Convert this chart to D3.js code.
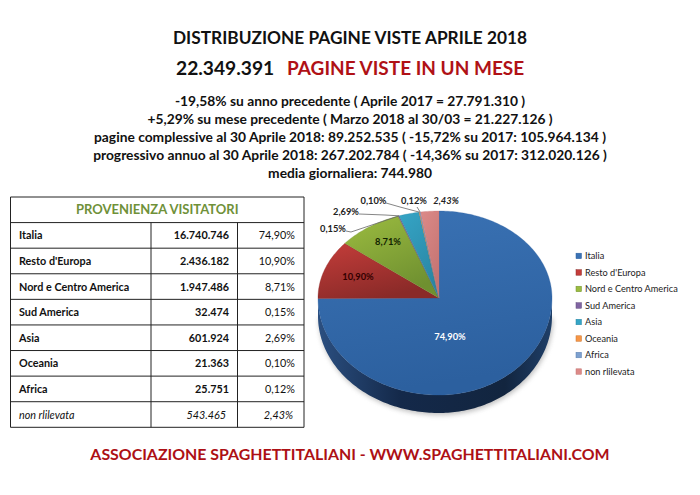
<!DOCTYPE html>
<html>
<head>
<meta charset="utf-8">
<script src="https://cdn.jsdelivr.net/npm/d3@7/dist/d3.min.js"></script>
<style>
body { margin: 0; background: #fff; }
svg { display: block; }
text { font-family: Lato, "Open Sans", sans-serif; }
</style>
</head>
<body>
<script>
var data = [
	{name: "Italia", visite: 16740746, valore: "16.740.746", pct: "74,90%", c1: "#3a72b4", c2: "#2c609f", lx: 450, ly: 337, col: "#fff"},
	{name: "Resto d'Europa", visite: 2436182, valore: "2.436.182", pct: "10,90%", c1: "#c43d3a", c2: "#8a2a28", lx: 358, ly: 277, col: "#300"},
	{name: "Nord e Centro America", visite: 1947486, valore: "1.947.486", pct: "8,71%", c1: "#9cbc40", c2: "#6f9030", lx: 388, ly: 242, col: "#120"},
	{name: "Sud America", visite: 32474, valore: "32.474", pct: "0,15%", c1: "#8064a2", c2: "#5f4a7c", lx: 333, ly: 229, col: "#222"},
	{name: "Asia", visite: 601924, valore: "601.924", pct: "2,69%", c1: "#35a5c6", c2: "#2a86a4", lx: 346, ly: 212, col: "#222"},
	{name: "Oceania", visite: 21363, valore: "21.363", pct: "0,10%", c1: "#f79646", c2: "#c87430", lx: 373.5, ly: 201, col: "#222"},
	{name: "Africa", visite: 25751, valore: "25.751", pct: "0,12%", c1: "#7da0cf", c2: "#5a7fb0", lx: 414, ly: 201, col: "#222"},
	{name: "non rlilevata", visite: 543465, valore: "543.465", pct: "2,43%", c1: "#dc8a88", c2: "#c47472", lx: 446, ly: 200.5, col: "#222", corsivo: true}
];

var testi = [
	{t: "-19,58% su anno precedente ( Aprile 2017 = 27.791.310 )", y: 106},
	{t: "+5,29% su mese precedente ( Marzo 2018 al 30/03 = 21.227.126 )", y: 124},
	{t: "pagine complessive al 30 Aprile 2018: 89.252.535 ( -15,72% su 2017: 105.964.134 )", y: 142},
	{t: "progressivo annuo al 30 Aprile 2018: 267.202.784 ( -14,36% su 2017: 312.020.126 )", y: 160},
	{t: "media giornaliera: 744.980", y: 178}
];

var canvas = d3.select("body").append("svg")
	.attr("width", 700)
	.attr("height", 495);

var defs = canvas.append("defs");

// titoli
canvas.append("text")
	.attr("x", 350).attr("y", 44)
	.attr("text-anchor", "middle")
	.attr("font-size", 17.3).attr("font-weight", 700)
	.attr("fill", "#111")
	.text("DISTRIBUZIONE PAGINE VISTE APRILE 2018");

canvas.append("text")
	.attr("x", 176).attr("y", 75)
	.attr("font-size", 19.2).attr("font-weight", 700)
	.attr("fill", "#111")
	.text("22.349.391");

canvas.append("text")
	.attr("x", 287).attr("y", 75)
	.attr("font-size", 19).attr("font-weight", 700)
	.attr("fill", "#b01116")
	.text("PAGINE VISTE IN UN MESE");

canvas.selectAll("text.riga")
	.data(testi)
	.enter()
		.append("text")
		.attr("class", "riga")
		.attr("x", 350)
		.attr("y", function (d) { return d.y; })
		.attr("text-anchor", "middle")
		.attr("font-size", 13.8).attr("font-weight", 700)
		.attr("fill", "#111")
		.text(function (d) { return d.t; });

canvas.append("text")
	.attr("x", 350).attr("y", 460)
	.attr("text-anchor", "middle")
	.attr("font-size", 15.9).attr("font-weight", 700)
	.attr("fill", "#ad1015")
	.text("ASSOCIAZIONE SPAGHETTITALIANI - WWW.SPAGHETTITALIANI.COM");

// tabella
var left = 10.5, right = 304, col1 = 151, col2 = 237.5;
var rowY = d3.scaleLinear().domain([0, 9]).range([197, 427.3]);

var table = canvas.append("g");

table.append("text")
	.attr("x", (left + right) / 2)
	.attr("y", rowY(0.5) + 4.5)
	.attr("text-anchor", "middle")
	.attr("font-size", 13).attr("font-weight", 700)
	.attr("fill", "#6f9139")
	.text("PROVENIENZA VISITATORI");

d3.range(0, 10).forEach(function (i) {
	table.append("line")
		.attr("x1", left).attr("x2", right)
		.attr("y1", rowY(i)).attr("y2", rowY(i))
		.attr("stroke", "#222").attr("stroke-width", 1);
});
[left, right].forEach(function (x) {
	table.append("line")
		.attr("x1", x).attr("x2", x)
		.attr("y1", rowY(0)).attr("y2", rowY(9))
		.attr("stroke", "#222").attr("stroke-width", 1);
});
[col1, col2].forEach(function (x) {
	table.append("line")
		.attr("x1", x).attr("x2", x)
		.attr("y1", rowY(1)).attr("y2", rowY(9))
		.attr("stroke", "#222").attr("stroke-width", 1);
});

var rows = table.selectAll("g.row")
	.data(data)
	.enter()
		.append("g")
		.attr("class", "row")
		.attr("transform", function (d, i) { return "translate(0," + (rowY(i + 1.5) + 4) + ")"; })
		.attr("font-size", 10.8)
		.attr("fill", "#111")
		.attr("font-style", function (d) { return d.corsivo ? "italic" : "normal"; });

rows.append("text")
	.attr("x", 19)
	.attr("font-weight", function (d) { return d.corsivo ? 400 : 700; })
	.text(function (d) { return d.name; });
rows.append("text")
	.attr("x", function (d) { return d.corsivo ? 226 : 229; })
	.attr("text-anchor", "end")
	.attr("font-weight", function (d) { return d.corsivo ? 400 : 700; })
	.text(function (d) { return d.valore; });
rows.append("text")
	.attr("x", function (d) { return d.corsivo ? 293 : 295; })
	.attr("text-anchor", "end")
	.text(function (d) { return d.pct; });

// torta in prospettiva
var cx = 439, cy = 298, rl = 121, rr = 113, rt = 87, rb = 97, depth = 18;

function rim(a) {
	var dx = Math.sin(a), dy = -Math.cos(a);
	return [cx + dx * (dx < 0 ? rl : rr), cy + dy * (dy < 0 ? rt : rb)];
}
function arco(a0, a1) {
	var n = Math.max(2, Math.ceil((a1 - a0) / 0.02));
	return d3.range(n + 1).map(function (i) { return rim(a0 + (a1 - a0) * i / n); });
}
var linea = d3.line();

var pie = d3.pie().sort(null).value(function (d) { return d.visite; });
var slices = pie(data);

slices.forEach(function (s, i) {
	var g = defs.append("linearGradient")
		.attr("id", "g" + i)
		.attr("x1", 0).attr("y1", 0)
		.attr("x2", i == 0 ? 0.2 : 0.5).attr("y2", 1);
	g.append("stop").attr("offset", 0).attr("stop-color", s.data.c1);
	g.append("stop").attr("offset", 1).attr("stop-color", s.data.c2);
});

var lato = defs.append("linearGradient").attr("id", "lato");
lato.append("stop").attr("offset", 0).attr("stop-color", "#2b4f80");
lato.append("stop").attr("offset", 0.35).attr("stop-color", "#14294a");
lato.append("stop").attr("offset", 0.8).attr("stop-color", "#12253f");
lato.append("stop").attr("offset", 1).attr("stop-color", "#1f3f68");

var blur = defs.append("filter").attr("id", "ombra")
	.attr("x", "-10%").attr("y", "-10%").attr("width", "120%").attr("height", "120%");
blur.append("feGaussianBlur").attr("stdDeviation", 2.5);

var pieG = canvas.append("g");

// fianco, visibile solo nella meta inferiore
var bordo = arco(Math.PI / 2, Math.PI * 1.5);
var fianco = bordo.concat(bordo.slice().reverse().map(function (p) { return [p[0], p[1] + depth]; }));

pieG.append("path")
	.attr("d", linea(bordo.map(function (p) { return [p[0] + 1, p[1] + depth + 2]; })) + "Z")
	.attr("fill", "#888").attr("opacity", 0.55)
	.attr("filter", "url(#ombra)");
pieG.append("path")
	.attr("d", linea(fianco) + "Z")
	.attr("fill", "url(#lato)");

pieG.selectAll("path.slice")
	.data(slices)
	.enter()
		.append("path")
		.attr("class", "slice")
		.attr("d", function (d) {
			return linea([[cx, cy]].concat(arco(d.startAngle, d.endAngle))) + "Z";
		})
		.attr("fill", function (d, i) { return "url(#g" + i + ")"; })
		.attr("stroke", function (d) { return d.data.c2; })
		.attr("stroke-width", 0.3);

// linee guida delle etichette esterne
var guide = [
	{fetta: 3, punti: [[346, 231], [351, 232]], k: 0.5},
	{fetta: 4, punti: [[359, 214], [385, 215]], k: 0},
	{fetta: 5, punti: [[386, 203], [400, 207]], k: 0.5},
	{fetta: 6, punti: [[417, 207]], k: 0.5}
];
pieG.selectAll("path.guida")
	.data(guide)
	.enter()
		.append("path")
		.attr("class", "guida")
		.attr("d", function (d) {
			var s = slices[d.fetta];
			return linea(d.punti.concat([rim(s.startAngle + (s.endAngle - s.startAngle) * d.k)]));
		})
		.attr("fill", "none")
		.attr("stroke", "#666")
		.attr("stroke-width", 0.8);

pieG.selectAll("text.etichetta")
	.data(data)
	.enter()
		.append("text")
		.attr("class", "etichetta")
		.attr("x", function (d) { return d.lx; })
		.attr("y", function (d) { return d.ly + 3; })
		.attr("text-anchor", "middle")
		.attr("font-size", 9.3)
		.attr("font-weight", 700)
		.attr("font-style", function (d) { return d.corsivo ? "italic" : "normal"; })
		.attr("fill", function (d) { return d.col; })
		.text(function (d) { return d.pct; });

// legenda
var legY = d3.scaleLinear().domain([0, 7]).range([255.7, 371.3]);

var legend = canvas.selectAll("g.voce")
	.data(data)
	.enter()
		.append("g")
		.attr("class", "voce")
		.attr("transform", function (d, i) { return "translate(576," + legY(i) + ")"; });

legend.append("rect")
	.attr("x", 0).attr("y", -2.5)
	.attr("width", 5.5).attr("height", 5.5)
	.attr("fill", function (d) { return d.c1; })
	.attr("stroke", function (d) { return d.c2; })
	.attr("stroke-width", 0.5);

legend.append("text")
	.attr("x", 9).attr("y", 3.5)
	.attr("font-size", 9.2)
	.attr("fill", "#222")
	.text(function (d) { return d.name; });
</script>
</body>
</html>
